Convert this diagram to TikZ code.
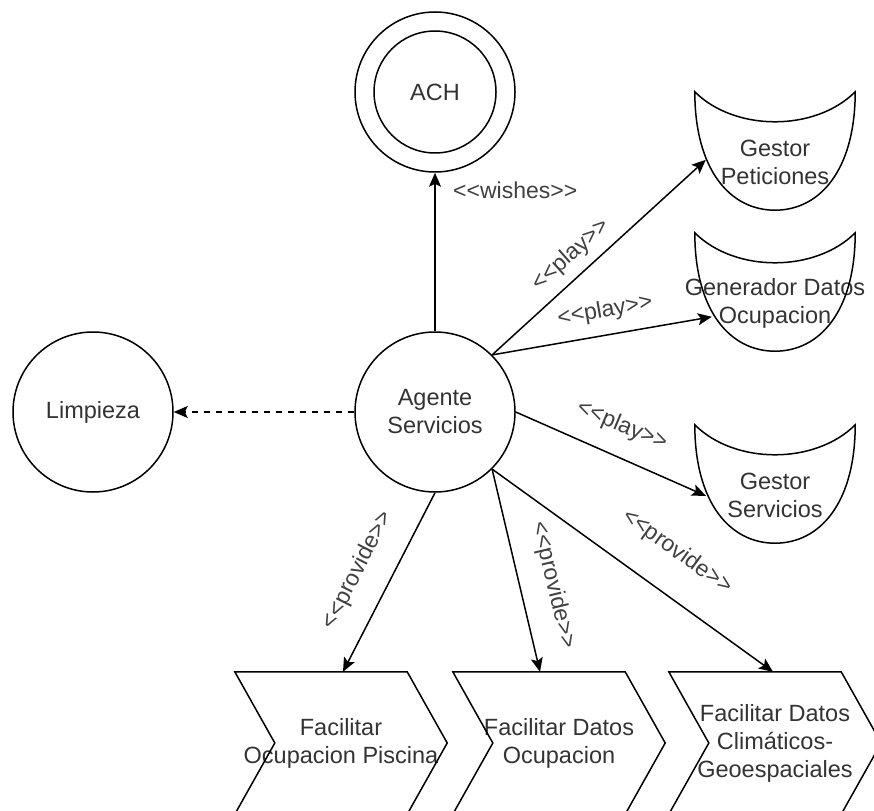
\documentclass[tikz,border=0pt]{standalone}
\usepackage{fontspec}
\setmainfont{Liberation Sans}[Ligatures=TeXOff]
\usetikzlibrary{arrows.meta,calc}

% outline of a role: concave top, rounded bowl below
\newcommand\roleoutline[1]{%
  \draw[line] (#1.north west) .. controls +(0,78) and +(-45,0) .. (#1.south)
    .. controls +(45,0) and +(0,78) .. (#1.north east)
    .. controls +(-40,40) and +(40,40) .. (#1.north west) -- cycle;}
% outline of a goal: chevron pointing right
\newcommand\chevronoutline[1]{%
  \draw[line] (#1.north west) -- ($(#1.north east)+(-40,0)$) -- (#1.east)
    -- ($(#1.south east)+(-40,0)$) -- (#1.south west) -- ($(#1.west)+(40,0)$) -- cycle;}

\begin{document}
\begin{tikzpicture}[x=1pt,y=-1pt,
  every node/.style={font=\fontsize{23.5}{28}\selectfont, text=black!80},
  line/.style={line width=1.5pt, draw=black, line join=miter},
  arr/.style={line, -{Stealth[length=14pt,width=12pt,inset=3pt]}},
  agent/.style={circle, line, minimum size=160pt, inner sep=0pt, align=center},
  rolebox/.style={minimum width=160pt, minimum height=118pt, inner sep=0pt},
  roletext/.style={align=center, inner sep=0pt},
  stepbox/.style={minimum width=212pt, minimum height=142pt, inner sep=0pt, align=center},
  lbl/.style={font=\fontsize{23}{27}\selectfont, text=black!75, inner sep=0pt}
]
\useasboundingbox (0,0) rectangle (874,810);

% agents
\node[agent] (ach) at (435,92) {ACH};
\draw[line] (ach.center) circle[radius=61pt];
\node[agent] (ag) at (435,412) {Agente\\Servicios};
\node[agent] (lim) at (93,412) {Limpieza};

% roles
\node[rolebox] (gp) at (775,151) {};
\node[roletext] (gpt) at ($(gp.center)+(0,11)$) {Gestor\\Peticiones};
\node[rolebox] (gd) at (775,292) {};
\node[roletext] (gdt) at ($(gd.center)+(0,11)$) {Generador Datos\\Ocupacion};
\node[rolebox] (gs) at (775,484) {};
\node[roletext] (gst) at ($(gs.center)+(0,11)$) {Gestor\\Servicios};
\roleoutline{gp}
\roleoutline{gd}
\roleoutline{gs}

% goals
\node[stepbox] (c1) at (341,743) {Facilitar\\Ocupacion Piscina};
\node[stepbox] (c2) at (559,743) {Facilitar Datos\\Ocupacion};
\node[stepbox] (c3) at (775,743) {Facilitar Datos\\Climáticos-\\Geoespaciales};
\chevronoutline{c1}
\chevronoutline{c2}
\chevronoutline{c3}

% connector end points on the outlines
\coordinate (gp-in) at ($(gp.north west)+(11,68)$);
\coordinate (gd-in) at ($(gd.north west)+(17,84)$);
\coordinate (gs-in) at ($(gs.north west)+(11,71)$);
\coordinate (c1-in) at ($(c1.north)+(2,0)$);
\coordinate (c2-in) at ($(c2.north)+(-19,0)$);
\coordinate (c3-in) at ($(c3.north)+(-2,0)$);

% connectors
\draw[arr] (ag.north) -- (ach.south);
\draw[arr, dash pattern=on 6pt off 6pt] (ag.west) -- (lim.east);
\draw[arr] (ag.45) -- (gp-in);
\draw[arr] (ag.45) -- (gd-in);
\draw[arr] (ag.east) -- (gs-in);
\draw[arr] (ag.south) -- (c1-in);
\draw[arr] (ag.-45) -- (c2-in);
\draw[arr] (ag.-45) -- (c3-in);

% connector labels
\node[lbl, anchor=west] (lw) at (453,190) {<<wishes>>};
\node[lbl, rotate=41.6] (lp1) at (571,255) {<<play>>};
\node[lbl, rotate=10] (lp2) at (605,311) {<<play>>};
\node[lbl, rotate=-23] (lp3) at (622,426) {<<play>>};
\node[lbl, rotate=63] (lv1) at (358,570) {<<provide>>};
\node[lbl, rotate=-76.5] (lv2) at (553,585) {<<provide>>};
\node[lbl, rotate=-35.7] (lv3) at (677,552) {<<provide>>};
\end{tikzpicture}
\end{document}
